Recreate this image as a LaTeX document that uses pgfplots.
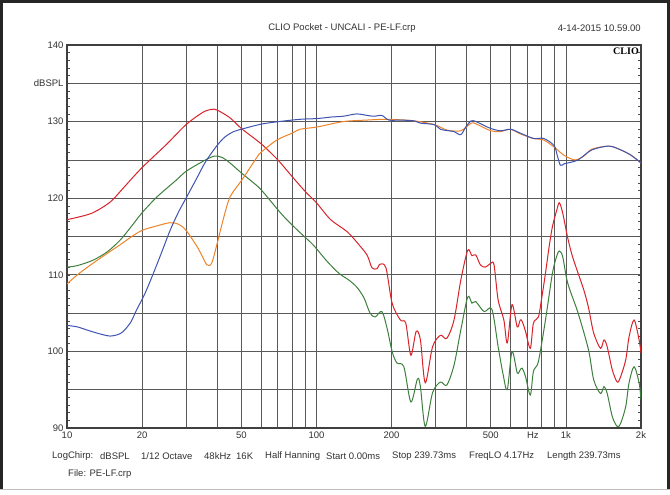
\documentclass[border=0pt]{standalone}
\usepackage{pgfplots}
\pgfplotsset{compat=1.18}
\usepackage{fontspec}
\setmainfont{Liberation Sans}
\newfontfamily\logofont{Liberation Serif}

\definecolor{cred}{RGB}{218,34,42}
\definecolor{cgreen}{RGB}{62,128,62}
\definecolor{cblue}{RGB}{62,84,178}
\definecolor{corange}{RGB}{238,132,42}

% frequency response curves (Hz, dBSPL)
\pgfplotstableread{
f y
10 117.2
11 117.5
12.7 118.1
14.9 119.5
17 121.5
20 124.0
25 127.0
30 129.6
35 131.2
38 131.6
40 131.5
45 130.5
50 129.1
60 127.1
70 125.0
80 122.8
90 120.9
100 119.4
114 117.2
133 115.6
150 113.7
160 112.5
167 110.9
175 110.8
180 111.4
190 110.9
201 106.3
217 104.1
228 103.7
239 99.5
251 102.6
261 101.5
273 95.9
292 100.6
314 102.1
333 101.7
356 104.1
379 109.3
404 113.2
420 112.5
435 112.6
454 111.3
475 111.0
500 111.5
515 111.3
535 106.7
564 104.1
582 101.1
608 106.1
638 103.2
656 104.1
668 103.9
689 102.6
720 100.4
741 103.7
776 104.5
800 107.0
828 110.2
855 113.5
883 116.3
920 118.5
941 119.4
970 118.1
1017 114.8
1060 112.5
1119 110.2
1180 108.0
1232 105.7
1292 102.4
1376 100.4
1421 101.5
1464 100.6
1534 97.6
1606 96.0
1657 96.7
1737 98.9
1791 101.9
1876 104.1
1965 101.5
2000 99.8
}\redtab

\pgfplotstableread{
f y
10 111.0
11 111.2
12.7 111.9
14.5 113.0
16.3 114.5
18 116.2
20 118.1
23 120.2
27.5 122.4
30 123.5
35 124.8
39 125.5
42 125.3
45 124.6
50 123.3
55 122.2
60 121.1
70 118.5
76 117.2
86 115.5
97 113.9
110 111.8
123 110.2
135 109.3
145 108.4
155 107.0
164 105.0
172 104.5
183 105.2
192 103.0
201 100.0
210 98.5
224 98.0
239 93.4
254 96.4
261 95.4
273 90.2
292 94.6
314 96.0
333 95.6
356 98.2
379 102.8
404 107.1
420 106.3
435 106.5
470 105.2
505 105.5
535 100.6
560 97.0
582 95.0
608 100.0
638 97.2
656 97.6
668 97.8
689 96.7
720 94.3
741 97.4
776 98.7
828 104.1
883 110.2
920 112.5
941 113.1
970 112.4
1017 108.9
1119 105.0
1232 100.2
1292 96.3
1376 94.5
1421 95.4
1464 94.5
1534 91.5
1606 90.2
1657 90.6
1737 92.8
1791 95.9
1876 98.0
1965 95.9
2000 93.7
}\greentab

\pgfplotstableread{
f y
10 103.4
11 103.2
12 102.8
13.5 102.3
14.9 102.0
16 102.2
16.8 102.6
18 103.8
19 105.4
20.5 107.5
22.2 110.2
24 113.0
25.9 115.8
28 118.2
30 120.0
33 122.5
36 124.8
40 126.9
43 128.0
46.6 128.7
50 129.0
54 129.3
60.7 129.7
70.6 130.0
86 130.3
100.7 130.4
115 130.6
128 130.7
145 131.0
160 130.8
170 130.7
183 130.8
195 130.2
217 130.2
246 130.1
261 129.8
297 129.6
314 129.0
340 128.8
356 128.7
379 128.3
397 129.3
417 130.1
436 130.0
470 129.5
500 129.1
547 128.8
600 129.0
656 128.5
741 127.8
814 127.8
895 126.9
923 125.6
950 124.3
985 124.5
1017 124.6
1119 125.0
1270 126.3
1487 126.8
1660 126.3
1826 125.6
2000 124.6
}\bluetab

\pgfplotstableread{
f y
10 108.8
11 110.0
12.7 111.5
14.5 112.8
16.3 113.9
18 114.9
20 115.8
23 116.4
25.9 116.8
28 116.6
30 115.8
33.2 113.7
35 112.3
36.4 111.3
38 111.5
40 114.1
42.5 117.5
45.1 120.2
50.3 122.4
56.8 125.0
60 126.0
69.5 127.6
80 128.5
86 129.0
100.7 129.3
128 130.0
159 130.2
192 130.3
246 130.1
297 129.6
333 128.9
379 128.8
417 129.8
436 129.7
500 128.8
547 128.7
600 129.0
656 128.4
741 127.8
814 127.6
895 126.7
983 125.6
1087 125.0
1180 125.5
1270 126.4
1487 126.8
1660 126.3
1826 125.6
2000 124.6
}\orangetab

\begin{document}
\begin{tikzpicture}[x=1pt,y=1pt]
\useasboundingbox (-67,-67) rectangle (603,428);
\fill[white] (-67,-67) rectangle (603,428);
\begin{axis}[
    at={(0,0)}, anchor=south west,
    scale only axis,
    width=574pt, height=383pt,
    xmode=log,
    xmin=10, xmax=2000,
    ymin=90, ymax=140,
    xtick={10,20,30,40,50,60,70,80,90,100,200,300,400,500,600,700,800,900,1000,2000},
    xticklabels={10,20,,,50,,,,,100,200,,,500,,,,,1k,2k},
    extra x ticks={737},
    extra x tick labels={Hz},
    extra x tick style={grid=none},
    ytick={90,95,...,140},
    yticklabels={90,,100,,110,,120,,130,dBSPL,140},
    minor y tick num=4,
    grid=major,
    major grid style={black!65, line width=0.7pt},
    axis line style={black!75, line width=1.1pt},
    xtick style={draw=none},
    ytick style={black!70, line width=0.5pt},
    tick align=inside,
    major tick length=3pt,
    minor tick length=3pt,
    ticklabel style={font=\fontsize{9.5}{11}\selectfont, text=black!80},
    /pgf/number format/assume math mode=true,
    every axis plot/.append style={line width=1pt, smooth, tension=0.5},
    clip=true,
]
\addplot[cred] table[x=f, y=y] {\redtab};
\addplot[cgreen] table[x=f, y=y] {\greentab};
\addplot[corange] table[x=f, y=y] {\orangetab};
\addplot[cblue] table[x=f, y=y] {\bluetab};
\end{axis}
\node[anchor=north east, font=\logofont\bfseries\fontsize{10}{12}\selectfont, inner sep=1pt] at (573,381) {CLIO};
\begin{scope}[every node/.style={font=\fontsize{9.5}{11}\selectfont, text=black!80, inner sep=0pt}]
\node at (275,400) {CLIO Pocket - UNCALI - PE-LF.crp};
\node[anchor=east] at (574,400) {4-14-2015 10.59.00};
\node[anchor=west] at (-15,-28) {LogChirp:};
\node[anchor=west] at (33,-28) {dBSPL};
\node[anchor=west] at (74,-28) {1/12 Octave};
\node[anchor=west] at (137,-28) {48kHz};
\node[anchor=west] at (169,-28) {16K};
\node[anchor=west] at (198,-28) {Half Hanning};
\node[anchor=west] at (259,-28) {Start 0.00ms};
\node[anchor=west] at (325,-28) {Stop 239.73ms};
\node[anchor=west] at (402,-28) {FreqLO 4.17Hz};
\node[anchor=west] at (480,-28) {Length 239.73ms};
\node[anchor=west] at (1,-46) {File: PE-LF.crp};
\end{scope}
\draw[line width=2.5pt, black!85] (-65.5,-62) -- (-65.5,426.5) -- (601.5,426.5) -- (601.5,-62);
\draw[black!25, line width=1pt] (-67,-62) -- (603,-62);
\end{tikzpicture}
\end{document}
